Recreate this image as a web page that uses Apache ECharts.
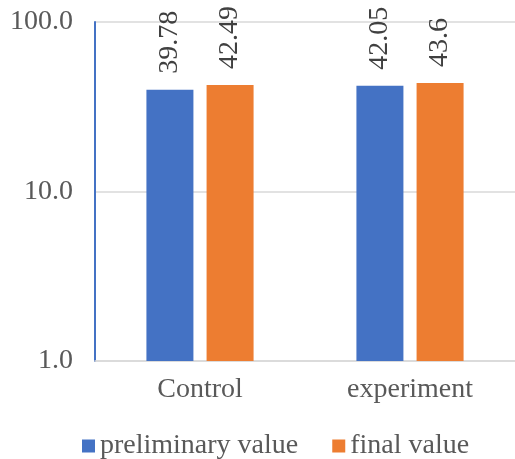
<!DOCTYPE html>
<html><head><meta charset="utf-8">
<script src="https://cdn.jsdelivr.net/npm/echarts@6/dist/echarts.min.js"></script>
<style>html,body{margin:0;padding:0;background:#fff}#c{width:515px;height:459px}</style>
</head><body><div id="c"></div>
<script>
var categories = ['Control', 'experiment'];
var preliminary = [39.78, 42.05];
var finalVals = [42.49, 43.6];
var seriesNames = ['preliminary value', 'final value'];
var FONT = '"Liberation Serif", "DejaVu Serif", serif';
var FS = 28;
var chart = echarts.init(document.getElementById('c'));
function lbl() {
  return { show: true, position: 'top', rotate: 90, align: 'left', verticalAlign: 'middle',
    fontFamily: FONT, fontSize: FS, color: '#404040', distance: 16 };
}
chart.setOption({
  animation: false,
  textStyle: { fontFamily: FONT },
  grid: { left: 95, right: 0, top: 22, bottom: 98, containLabel: false },
  legend: {
    top: 427, left: 77, itemWidth: 13, itemHeight: 13, itemGap: 34,
    icon: 'rect',
    textStyle: { fontFamily: FONT, fontSize: FS, color: '#595959' },
    data: seriesNames
  },
  xAxis: {
    type: 'category', data: categories,
    axisLine: { lineStyle: { color: '#d9d9d9', width: 1.5 } },
    axisTick: { show: false },
    axisLabel: { fontFamily: FONT, fontSize: FS, color: '#595959', margin: 15 }
  },
  yAxis: {
    type: 'log', logBase: 10, min: 1, max: 100,
    axisLine: { show: true, lineStyle: { color: '#4472C4', width: 2 } },
    axisTick: { show: false },
    splitLine: { lineStyle: { color: '#d9d9d9', width: 1.5 } },
    axisLabel: { fontFamily: FONT, fontSize: FS, color: '#595959', margin: 22,
      formatter: function (v) { return Number(v).toFixed(1); } }
  },
  series: [
    { name: seriesNames[0], type: 'bar', data: preliminary, barWidth: 47, barGap: '28%',
      itemStyle: { color: '#4472C4' }, label: lbl() },
    { name: seriesNames[1], type: 'bar', data: finalVals, barWidth: 47,
      itemStyle: { color: '#ED7D31' }, label: lbl() }
  ]
});
</script></body></html>
